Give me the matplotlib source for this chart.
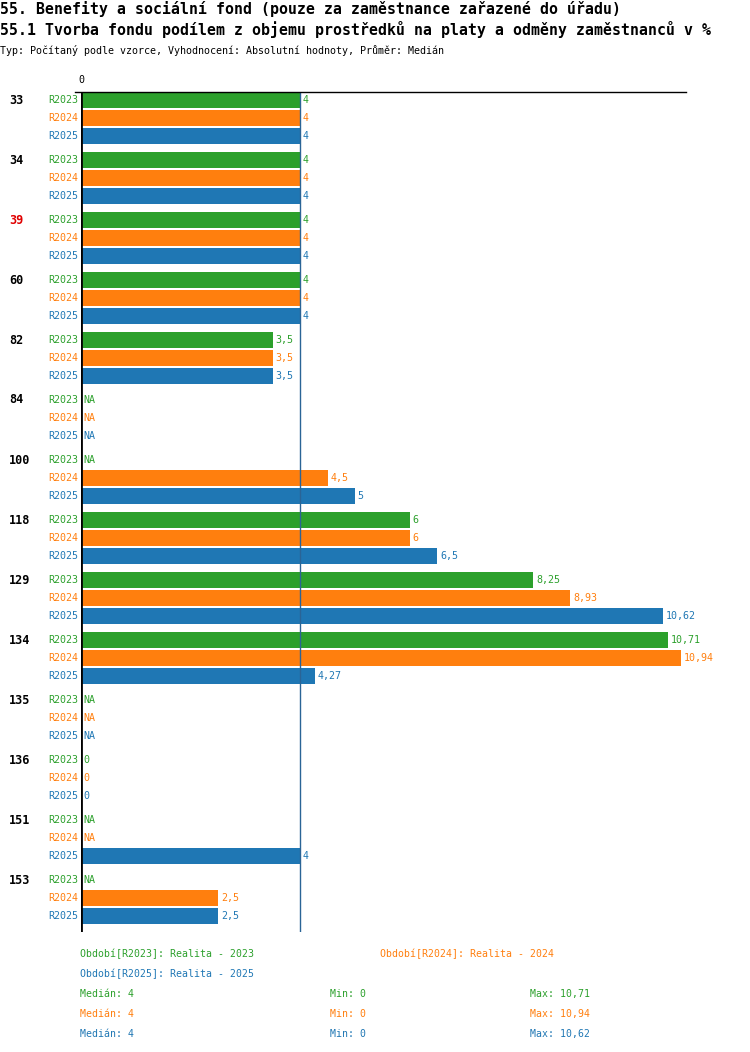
import matplotlib.pyplot as plt
import numpy as np

groups = ['33', '34', '39', '60', '82', '84', '100', '118', '129', '134', '135', '136', '151', '153']
red_groups = ['39']
series = ['R2023', 'R2024', 'R2025']
colors = ['#2ca02c', '#ff7f0e', '#1f77b4']
# None = NA
r2023 = [4, 4, 4, 4, 3.5, None, None, 6, 8.25, 10.71, None, 0, None, None]
r2024 = [4, 4, 4, 4, 3.5, None, 4.5, 6, 8.93, 10.94, None, 0, None, 2.5]
r2025 = [4, 4, 4, 4, 3.5, None, 5, 6.5, 10.62, 4.27, None, 0, 4, 2.5]
legend_names = ['Období[R2023]: Realita - 2023', 'Období[R2024]: Realita - 2024',
                'Období[R2025]: Realita - 2025']
medians = [4, 4, 4]
mins = [0, 0, 0]
maxs = [10.71, 10.94, 10.62]

W, H = 750, 1052
fig = plt.figure(figsize=(W / 100, H / 100), dpi=100)
mono = 'DejaVu Sans Mono'

def fx(px):
    return px / W

def fy(py):
    return 1 - py / H

# plot area in pixels: x 81..686, y 92..932
ax = fig.add_axes([fx(81), fy(932), fx(686) - fx(81), fy(92) - fy(932)])
scale = 54.8
ax.set_xlim(0, (686 - 81) / scale)
ax.set_ylim(932, 92)
ax.axis('off')

def fmt(v):
    s = ('%.2f' % v).rstrip('0').rstrip('.')
    return s.replace('.', ',')

data = [r2023, r2024, r2025]
for gi, g in enumerate(groups):
    base = 100 + 60 * gi
    for si, vals in enumerate(data):
        y = base + 18 * si
        v = vals[gi]
        c = colors[si]
        if v is not None and v > 0:
            ax.barh(y, v, height=16, color=c, zorder=2)
        txt = 'NA' if v is None else fmt(v)
        xv = 0 if v is None else v
        ax.annotate(txt, (xv, y), xytext=(2, 0), textcoords='offset points',
                    ha='left', va='center', color=c, fontsize=7.2, family=mono)
        ax.annotate(series[si], (0, y), xytext=(-2, 0), textcoords='offset points',
                    ha='right', va='center', color=c, fontsize=7.2, family=mono)
    gc = '#e00000' if g in red_groups else 'black'
    fig.text(fx(9), fy(base), g, ha='left', va='center', color=gc,
             fontsize=8.5, family=mono, fontweight='bold')

# median line
ax.axvline(medians[0], color='#2a6496', lw=1, zorder=3)
# left axis and top line
ax.axvline(0, color='black', lw=2, zorder=4)
fig.add_artist(plt.Line2D([fx(75), fx(686)], [fy(92), fy(92)], color='black', lw=1))
fig.text(fx(81), fy(80), '0', ha='center', va='center', fontsize=7.2, family=mono)

# titles
fig.text(fx(0), fy(9), '55. Benefity a sociální fond (pouze za zaměstnance zařazené do úřadu)',
         ha='left', va='center', fontsize=10.75, family=mono, fontweight='bold')
fig.text(fx(0), fy(30), '55.1 Tvorba fondu podílem z objemu prostředků na platy a odměny zaměstnanců v %',
         ha='left', va='center', fontsize=10.75, family=mono, fontweight='bold')
fig.text(fx(0), fy(51), 'Typ: Počítaný podle vzorce, Vyhodnocení: Absolutní hodnoty, Průměr: Medián',
         ha='left', va='center', fontsize=7.2, family=mono)

# legend
fig.text(fx(80), fy(954), legend_names[0], color=colors[0], ha='left', va='center', fontsize=7.1, family=mono)
fig.text(fx(380), fy(954), legend_names[1], color=colors[1], ha='left', va='center', fontsize=7.1, family=mono)
fig.text(fx(80), fy(974), legend_names[2], color=colors[2], ha='left', va='center', fontsize=7.1, family=mono)
for si in range(3):
    y = 994 + 20 * si
    fig.text(fx(80), fy(y), 'Medián: ' + fmt(medians[si]), color=colors[si], ha='left', va='center', fontsize=7.1, family=mono)
    fig.text(fx(330), fy(y), 'Min: ' + fmt(mins[si]), color=colors[si], ha='left', va='center', fontsize=7.1, family=mono)
    fig.text(fx(530), fy(y), 'Max: ' + fmt(maxs[si]), color=colors[si], ha='left', va='center', fontsize=7.1, family=mono)

fig.savefig('out.png', dpi=100)
